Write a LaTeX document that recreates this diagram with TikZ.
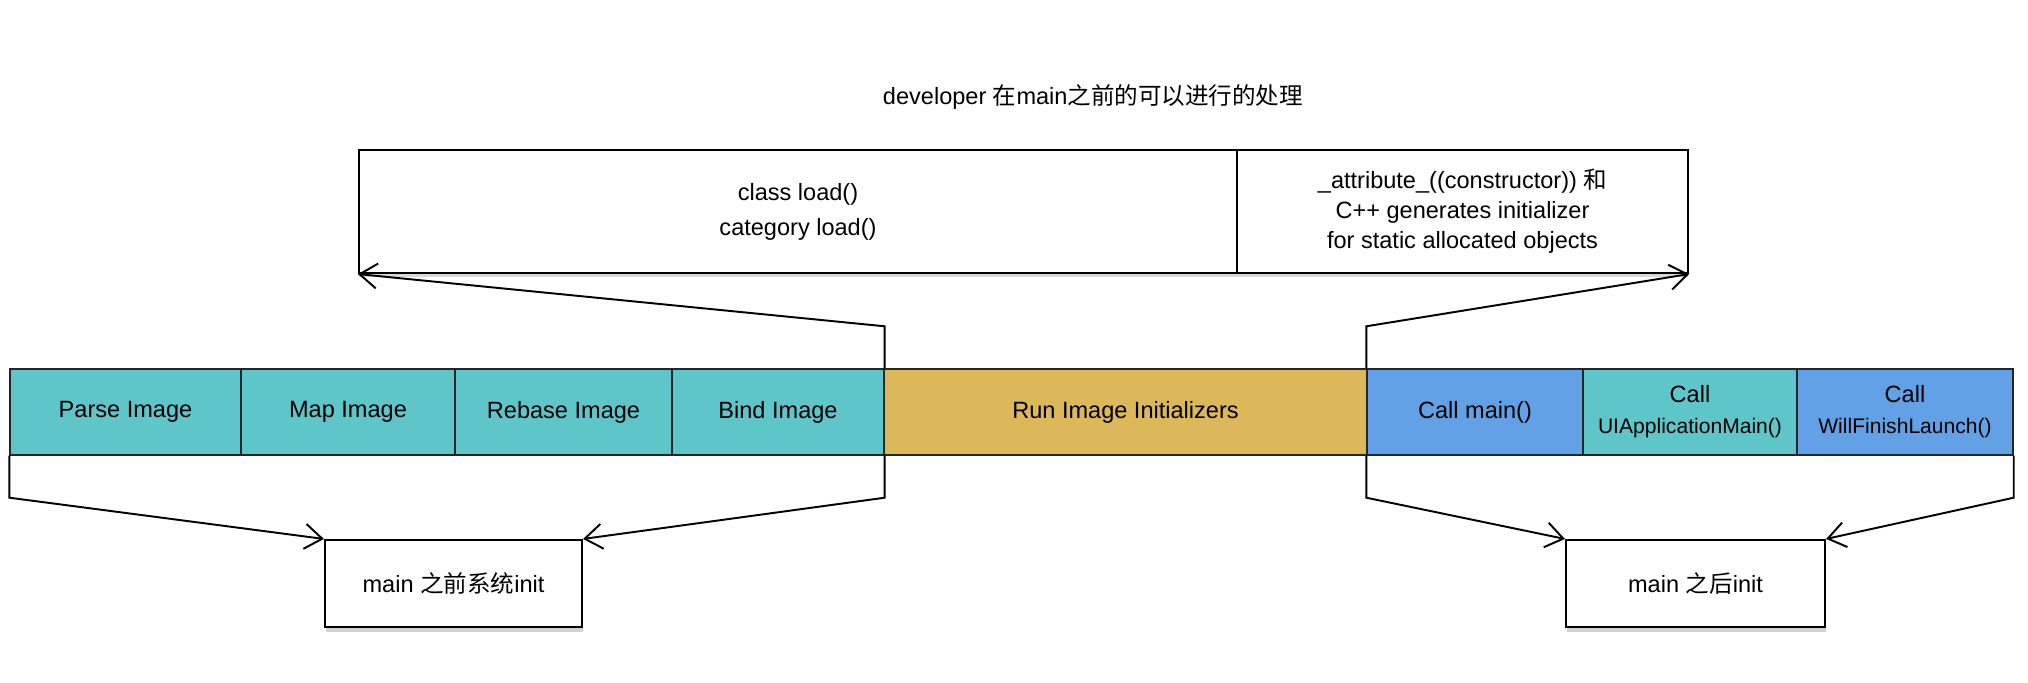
\documentclass[tikz,border=0pt]{standalone}
\usepackage{fontspec}
\setmainfont{Liberation Sans}
\newfontfamily\zhfont{Noto Sans CJK SC}
\usetikzlibrary{arrows.meta}
\usetikzlibrary{shadows}

\definecolor{imgteal}{HTML}{5EC5C8}
\definecolor{initgold}{HTML}{DDB85A}
\definecolor{mainblue}{HTML}{62A1E6}

\newcommand{\callname}[1]{{\fontsize{12}{17.5}\selectfont #1}}

\begin{document}
\begin{tikzpicture}[
        stage/.style={rectangle, draw=black!85, line width=0.8pt, minimum height=1.72cm, inner sep=0, align=center, font=\fontsize{13.4}{17.5}\selectfont},
        devbox/.style={rectangle, draw=black, line width=1.2pt, fill=white, minimum height=2.46cm, inner sep=0, align=center,
            drop shadow={shadow xshift=0pt, shadow yshift=-2.5pt, opacity=0.3}},
        initbox/.style={rectangle, draw=black, line width=1.2pt, fill=white, minimum height=1.74cm, inner sep=0, align=center, font=\fontsize{13.4}{15.5}\selectfont,
            drop shadow={shadow xshift=0.6pt, shadow yshift=-3pt, opacity=0.35}},
        flow/.style={-{Straight Barb[length=3.5mm, width=5mm]}, line width=1.1pt},
        >=stealth
    ]

        % page frame
        \useasboundingbox (0,0) rectangle (40.56,13.64);

        % title
        \node[font=\fontsize{13.4}{15.5}\selectfont] (title) at (21.86, 11.70) {developer {\zhfont 在}main{\zhfont 之前的可以进行的处理}};

        % launch stages
        \node[stage, fill=imgteal, minimum width=4.62cm] (parse) at (2.51, 5.40) {Parse Image};
        \node[stage, fill=imgteal, minimum width=4.28cm] (map) at (6.96, 5.40) {Map Image};
        \node[stage, fill=imgteal, minimum width=4.34cm] (rebase) at (11.27, 5.40) {Rebase Image};
        \node[stage, fill=imgteal, minimum width=4.24cm] (bind) at (15.56, 5.40) {Bind Image};
        \node[stage, fill=initgold, minimum width=9.66cm] (run) at (22.51, 5.40) {Run Image Initializers};
        \node[stage, fill=mainblue, minimum width=4.32cm] (callmain) at (29.50, 5.40) {Call main()};
        \node[stage, fill=imgteal, minimum width=4.28cm] (uiapp) at (33.80, 5.40) {Call\\\callname{UIApplicationMain()}};
        \node[stage, fill=mainblue, minimum width=4.32cm] (willfinish) at (38.10, 5.40) {Call\\\callname{WillFinishLaunch()}};

        % developer hooks
        \node[devbox, minimum width=17.56cm, font=\fontsize{13.4}{20}\selectfont] (load) at (15.96, 9.41) {class load()\\category load()};
        \node[devbox, minimum width=9.02cm, font=\fontsize{13.4}{17}\selectfont] (ctor) at (29.25, 9.41) {\_attribute\_((constructor)) {\zhfont 和}\\C++ generates initializer\\for static allocated objects};

        % init groups
        \node[initbox, minimum width=5.14cm] (beforemain) at (9.07, 1.97) {main {\zhfont 之前系统}init};
        \node[initbox, minimum width=5.18cm] (aftermain) at (33.91, 1.97) {main {\zhfont 之后}init};

        % stages -> developer hooks
        \draw[flow] (bind.north east) -- ++(0, 0.84) -- (load.south west);
        \draw[flow] (callmain.north west) -- ++(0, 0.84) -- (ctor.south east);

        % stages -> init groups
        \draw[flow] (parse.south west) -- ++(0, -0.84) -- (beforemain.north west);
        \draw[flow] (bind.south east) -- ++(0, -0.84) -- (beforemain.north east);
        \draw[flow] (callmain.south west) -- ++(0, -0.84) -- (aftermain.north west);
        \draw[flow] (willfinish.south east) -- ++(0, -0.84) -- (aftermain.north east);

    \end{tikzpicture}
\end{document}
